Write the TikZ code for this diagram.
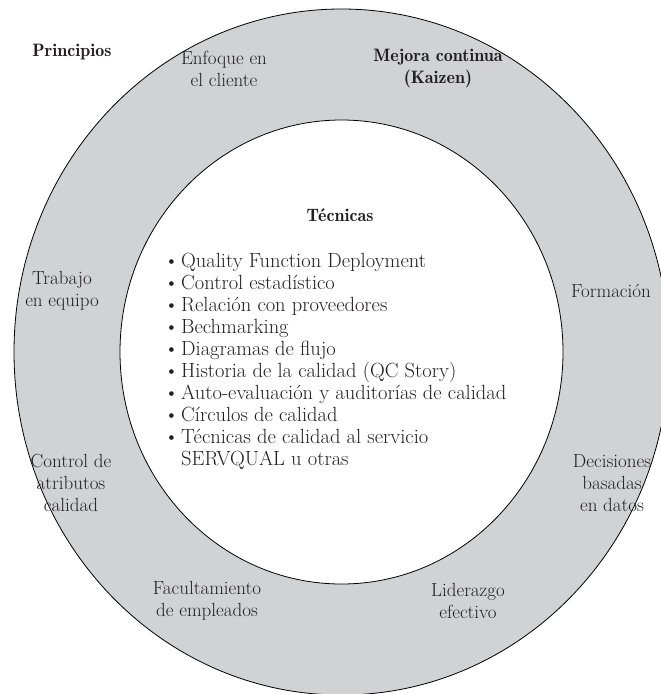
\documentclass[tikz,border=0pt]{standalone}
\usepackage{fontspec}
\newfontfamily\demifont{lmromandemi10-regular.otf}
\definecolor{ringgray}{RGB}{209,210,212}
\definecolor{ink}{RGB}{35,31,32}
\newcommand{\bul}{\makebox[17pt][l]{\textbullet}}

\begin{document}
\begin{tikzpicture}[x=1pt,y=-1pt,
  every node/.style={text=ink, inner sep=0pt, font=\fontsize{19}{22}\selectfont},
  lbl/.style={align=center},
  head/.style={align=center, font=\fontsize{18}{22}\selectfont\demifont},
  listtext/.style={align=left, font=\fontsize{20.5}{22}\selectfont},
  ring/.style={line width=0.8pt, draw=black}]
\useasboundingbox (0,0) rectangle (661,694);

% outer ring (principles) and inner disc (techniques)
\begin{scope}
  \clip (0,0) rectangle (661,694);
  \fill[ringgray, ring] (341.5,352) ellipse [x radius=327.5, y radius=343];
\end{scope}
\fill[white, ring] (341.5,352) ellipse [x radius=221.5, y radius=232];

% principles
\node[head] (princ) at (72,52) {Principios};
\node[lbl]  (enfoque) at (224,69) {Enfoque en\\el cliente};
\node[head] (mejora) at (438,69) {Mejora continua\\(Kaizen)};
\node[lbl]  (trabajo) at (62,291) {Trabajo\\en equipo};
\node[lbl]  (formacion) at (611,291) {Formación};
\node[lbl]  (control) at (71,483) {Control de\\atributos\\calidad};
\node[lbl]  (decisiones) at (612,483) {Decisiones\\basadas\\en datos};
\node[lbl]  (facult) at (207,601) {Facultamiento\\de empleados};
\node[lbl]  (liderazgo) at (468,601) {Liderazgo\\efectivo};

% techniques
\node[head] (tecnicas) at (340,215) {Técnicas};
\node[listtext, anchor=north west] (lista) at (164,253) {%
  \bul Quality Function Deployment\\
  \bul Control estadístico\\
  \bul Relación con proveedores\\
  \bul Bechmarking\\
  \bul Diagramas de flujo\\
  \bul Historia de la calidad (QC Story)\\
  \bul Auto-evaluación y auditorías de calidad\\
  \bul Círculos de calidad\\
  \bul Técnicas de calidad al servicio\\
  \hspace*{17pt}SERVQUAL u otras};
\end{tikzpicture}
\end{document}
